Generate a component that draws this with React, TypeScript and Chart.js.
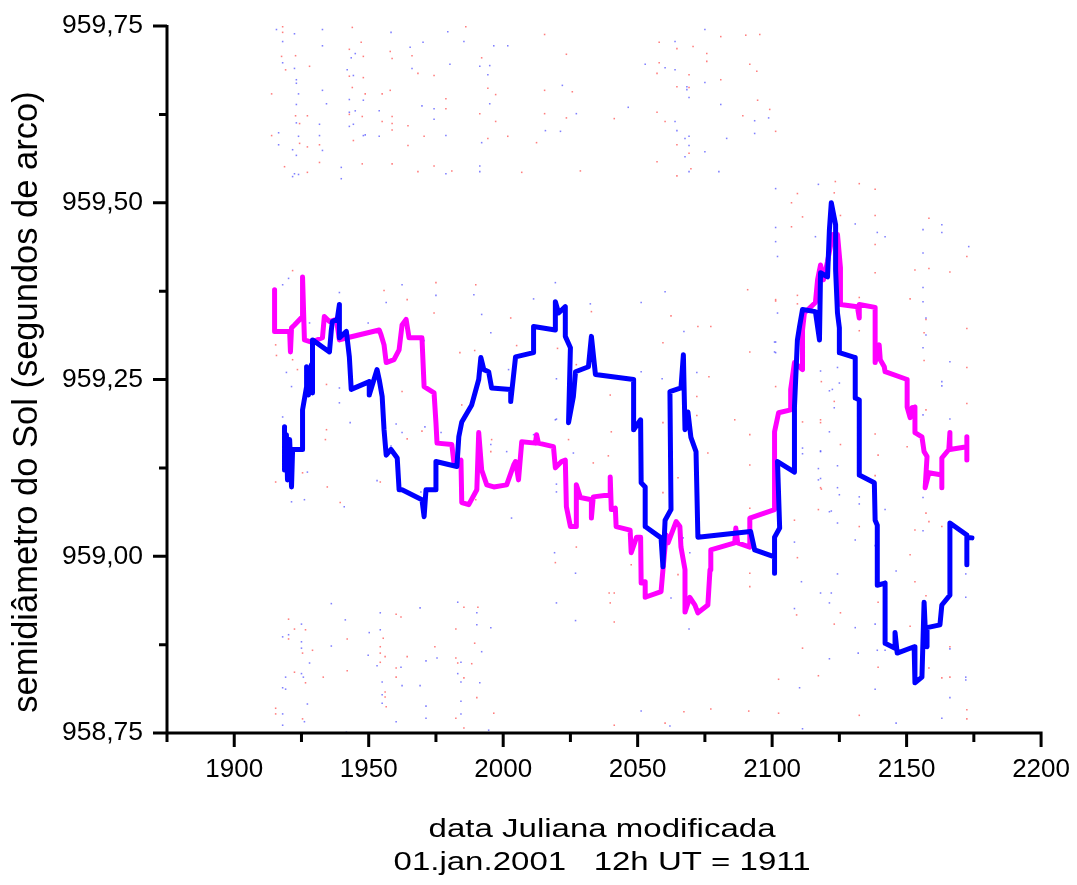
import { useEffect, useRef } from 'react';
import { Chart, registerables } from 'chart.js';

Chart.register(...registerables);

// Tick values
const xTickValues = [1900, 1950, 2000, 2050, 2100, 2150, 2200];
const xMinorTicks = [1875, 1925, 1975, 2025, 2075, 2125, 2175];
const yTickValues = [958.75, 959.0, 959.25, 959.5, 959.75];
const yMinorTicks = [958.875, 959.125, 959.375, 959.625];

const xTitleLines = ['data Juliana modificada', '01.jan.2001   12h UT = 1911'];
const yTitle = 'semidiâmetro do Sol (segundos de arco)';

// Magenta series
const magentaX = [
  1915.0, 1915.0, 1920.6, 1920.9, 1921.3, 1922.4, 1925.4, 1925.4, 1926.1, 1928.7,
  1932.8, 1933.5, 1935.4, 1938.0, 1939.1, 1942.0, 1953.9, 1954.6, 1955.7, 1956.5,
  1959.4, 1961.3, 1962.4, 1963.9, 1965.0, 1969.8, 1970.6, 1974.3, 1975.0, 1975.4,
  1980.9, 1981.7, 1984.3, 1984.6, 1987.2, 1990.2, 1990.9, 1992.0, 1993.9, 1996.5,
  2001.3, 2003.9, 2004.6, 2005.7, 2006.9, 2012.0, 2012.4, 2013.1, 2018.7, 2019.4,
  2021.7, 2023.1, 2023.5, 2025.0, 2027.2, 2027.2, 2028.7, 2032.8, 2032.8, 2033.5,
  2039.8, 2039.8, 2040.2, 2041.7, 2042.0, 2047.2, 2047.6, 2049.6, 2051.1, 2051.3,
  2052.8, 2052.8, 2058.7, 2059.4, 2060.6, 2061.3, 2064.3, 2065.7, 2066.1, 2067.6,
  2067.6, 2069.4, 2071.3, 2072.4, 2076.1, 2076.9, 2077.2, 2086.1, 2086.5, 2087.2,
  2091.7, 2091.7, 2100.9, 2100.9, 2102.4, 2106.9, 2106.9, 2108.3, 2111.3, 2111.3,
  2112.0, 2116.1, 2116.9, 2118.0, 2119.1, 2120.6, 2122.5, 2124.3, 2125.4, 2125.4,
  2131.7, 2132.4, 2132.4, 2138.3, 2138.3, 2139.8, 2140.2, 2141.7, 2142.0, 2150.2,
  2150.2, 2151.3, 2152.0, 2153.1, 2153.1, 2155.7, 2156.5, 2157.6, 2156.9, 2158.3,
  2163.1, 2163.1, 2163.1, 2165.7, 2166.1, 2166.1, 2172.4, 2172.4, 2172.4,
];
const magentaY = [
  959.377, 959.318, 959.318, 959.289, 959.323, 959.327, 959.339, 959.395, 959.306, 959.303,
  959.309, 959.339, 959.332, 959.335, 959.306, 959.309, 959.320, 959.313, 959.299, 959.274,
  959.278, 959.292, 959.327, 959.335, 959.309, 959.309, 959.240, 959.231, 959.189, 959.160,
  959.158, 959.132, 959.136, 959.076, 959.073, 959.094, 959.175, 959.122, 959.101, 959.098,
  959.101, 959.129, 959.134, 959.108, 959.162, 959.160, 959.172, 959.160, 959.155, 959.125,
  959.134, 959.136, 959.070, 959.042, 959.042, 959.101, 959.083, 959.080, 959.054, 959.084,
  959.087, 959.112, 959.066, 959.068, 959.042, 959.037, 959.005, 959.027, 959.027, 958.962,
  958.964, 958.942, 958.950, 958.981, 959.030, 959.019, 959.049, 959.042, 959.013, 958.981,
  958.921, 958.942, 958.931, 958.920, 958.931, 958.981, 959.009, 959.019, 959.040, 959.019,
  959.013, 959.054, 959.066, 959.176, 959.203, 959.207, 959.236, 959.274, 959.264, 959.320,
  959.344, 959.359, 959.391, 959.412, 959.391, 959.417, 959.455, 959.455, 959.408, 959.356,
  959.353, 959.337, 959.356, 959.352, 959.274, 959.299, 959.278, 959.268, 959.261, 959.250,
  959.211, 959.196, 959.210, 959.211, 959.175, 959.169, 959.148, 959.141, 959.097, 959.118,
  959.115, 959.097, 959.139, 959.151, 959.175, 959.151, 959.155, 959.169, 959.136,
];

// Blue series
const blueX = [
  1918.7, 1918.7, 1919.4, 1919.8, 1920.6, 1921.3, 1921.7, 1925.4, 1925.4, 1926.9,
  1926.9, 1927.6, 1928.7, 1929.1, 1929.1, 1935.4, 1936.1, 1936.5, 1938.3, 1939.1,
  1939.1, 1941.7, 1942.8, 1943.5, 1950.2, 1950.2, 1953.1, 1953.9, 1955.0, 1955.7,
  1956.5, 1958.3, 1960.6, 1961.3, 1962.4, 1969.8, 1970.6, 1971.3, 1975.0, 1975.0,
  1982.8, 1983.5, 1984.6, 1988.3, 1990.9, 1991.7, 1992.8, 1994.6, 1995.7, 2002.8,
  2002.8, 2004.6, 2011.3, 2011.3, 2019.4, 2019.4, 2020.6, 2023.1, 2023.1, 2025.0,
  2024.3, 2026.1, 2026.9, 2031.7, 2032.8, 2034.3, 2048.5, 2048.5, 2051.1, 2051.3,
  2052.8, 2052.8, 2058.7, 2059.4, 2060.2, 2062.4, 2062.0, 2066.1, 2067.0, 2067.6,
  2068.7, 2069.8, 2071.7, 2072.4, 2092.0, 2093.5, 2100.9, 2100.9, 2100.9, 2102.8,
  2102.0, 2108.3, 2108.3, 2109.4, 2110.2, 2111.3, 2116.1, 2117.6, 2118.0, 2120.6,
  2121.3, 2122.0, 2123.6, 2123.6, 2124.3, 2125.0, 2125.0, 2130.9, 2130.9, 2132.4,
  2132.4, 2138.0, 2138.3, 2139.1, 2139.1, 2142.0, 2142.0, 2145.7, 2145.7, 2146.5,
  2152.8, 2153.1, 2155.7, 2156.5, 2156.9, 2157.6, 2157.6, 2162.4, 2163.1, 2166.1,
  2166.1, 2172.4, 2172.4, 2172.4, 2174.3,
];
const blueY = [
  959.183, 959.122, 959.172, 959.108, 959.165, 959.098, 959.151, 959.151, 959.207, 959.240,
  959.268, 959.228, 959.271, 959.231, 959.306, 959.289, 959.320, 959.332, 959.335, 959.356,
  959.309, 959.318, 959.282, 959.236, 959.247, 959.228, 959.264, 959.250, 959.226, 959.179,
  959.143, 959.151, 959.139, 959.094, 959.094, 959.080, 959.056, 959.094, 959.094, 959.134,
  959.127, 959.169, 959.190, 959.214, 959.250, 959.281, 959.264, 959.261, 959.238, 959.236,
  959.219, 959.282, 959.288, 959.325, 959.320, 959.360, 959.344, 959.353, 959.311, 959.295,
  959.189, 959.226, 959.261, 959.268, 959.311, 959.257, 959.250, 959.179, 959.193, 959.104,
  959.098, 959.042, 959.026, 958.985, 959.051, 959.066, 959.233, 959.238, 959.285, 959.179,
  959.204, 959.168, 959.148, 959.027, 959.035, 959.009, 958.999, 958.976, 959.027, 959.040,
  959.134, 959.119, 959.211, 959.306, 959.325, 959.349, 959.346, 959.306, 959.401, 959.395,
  959.462, 959.500, 959.469, 959.405, 959.344, 959.323, 959.288, 959.281, 959.224, 959.221,
  959.115, 959.104, 959.051, 959.044, 958.959, 958.962, 958.877, 958.870, 958.892, 958.863,
  958.872, 958.821, 958.829, 958.935, 958.900, 958.872, 958.899, 958.903, 958.931, 958.945,
  959.047, 959.030, 958.988, 959.027, 959.026,
];

// Individual measurements (faint scattered dots), red
const redDotX = [
  1918.0, 1918.0, 1917.6, 1919.1, 1922.8, 1928.0, 1913.9, 1922.8, 1927.2, 1924.3,
  1913.9, 1924.3, 1927.2, 1931.7, 1931.7, 1918.7, 1927.2, 1943.9, 1947.2, 1942.8,
  1948.0, 1948.0, 1942.8, 1943.9, 1948.7, 1958.0, 1958.7, 1958.0, 1955.0, 1958.7,
  1958.7, 1955.0, 1958.7, 1947.6, 1942.8, 1944.3, 1947.6, 1958.7, 1964.6, 1964.6,
  1966.1, 1968.3, 1974.3, 1970.6, 1974.3, 1968.3, 1978.7, 1978.7, 1980.9, 1986.1,
  1992.0, 1994.3, 1997.2, 1997.2, 1991.3, 1994.3, 2001.7, 2012.4, 2006.9, 2015.4,
  2015.4, 2015.4, 2023.5, 2025.7, 2023.5, 2041.3, 2028.7, 2058.0, 2064.6, 2070.6,
  2080.9, 2090.2, 2095.4, 2058.0, 2057.2, 2075.7, 2075.7, 2069.1, 2080.9, 2091.7,
  2094.3, 2064.6, 2069.1, 2057.2, 2060.2, 2089.1, 2094.6, 2099.1, 2101.3, 2064.6,
  2069.1, 2057.2, 2069.8, 2064.6,
  1920.2, 1922.4, 1926.5, 1920.2, 1929.1, 1925.4, 1922.4, 1926.5, 1933.1, 1942.0,
  1942.0, 1915.4, 1915.4, 1925.4, 1955.4, 1954.3, 1954.3, 1956.1, 1954.3, 1962.0,
  1960.2, 1964.3, 1960.2, 1960.2, 1956.1, 1956.1, 1956.5, 1974.6, 1982.4, 1982.4,
  1983.1, 1985.4, 1990.6, 1989.4, 1985.4, 1990.2, 1982.4, 1985.4, 1996.5, 1988.3,
  2041.3, 2067.2, 2060.2, 2077.2, 2091.3, 2102.4, 2132.4, 2172.4, 2172.4,
  2109.4, 2107.2, 2111.3, 2107.2, 2123.5, 2123.1, 2125.4, 2132.4, 2138.3, 2138.3,
  2138.3, 2138.3, 2158.3, 2153.1, 2158.3, 2166.1, 2172.4, 2172.4, 2157.2, 2151.3,
  2156.5, 2156.5, 2172.4, 2172.4, 2157.2, 2150.2, 2157.2, 2153.1, 2158.3, 2163.1,
  2151.3, 2153.1, 2157.2, 2151.3, 2166.1, 2158.3, 2163.1, 2166.1, 2109.1, 2111.3,
  2102.4, 2117.2, 2125.4, 2123.1, 2139.4, 2139.4, 2108.3, 2109.4, 2125.4, 2118.3,
  2117.2, 2132.4, 2139.4, 2138.3, 2138.3, 2118.0, 2111.3, 2123.1, 2118.3, 2101.3,
  2101.3, 2109.4, 2109.4, 2132.4, 2132.4,
  1921.7, 1915.4, 1915.7, 1921.7, 1923.5, 1934.3, 1955.7, 1964.3, 1975.0, 1974.3,
  1989.8, 2002.8, 2005.0, 2020.2, 1983.9, 1989.4, 1962.4, 1984.6, 1969.8, 1964.3,
  1934.3, 1933.9, 1925.4, 1915.4, 1934.6, 1939.4, 1954.3, 1995.7, 1995.4, 1989.8,
  1985.0,
  2090.9, 2091.7, 2091.7, 2091.7, 2091.7, 2091.7, 2091.7, 2086.1, 2076.5, 2076.1,
  2072.0, 2072.0, 2077.2, 2072.4, 2062.4, 2059.4, 2059.4, 2059.4, 2065.0, 2101.3,
  2118.0, 2118.0, 2032.8, 2039.8, 2040.2, 2039.1, 2033.5, 2024.3, 2027.2, 2039.4,
  2041.3, 2039.8, 2041.3, 2027.2, 2019.4, 2047.6, 2065.0,
];
const redDotY = [
  959.749, 959.741, 959.707, 959.688, 959.708, 959.693, 959.654, 959.623, 959.623, 959.612,
  959.595, 959.584, 959.579, 959.582, 959.557, 959.551, 959.543, 959.748, 959.727, 959.717,
  959.707, 959.677, 959.679, 959.663, 959.654, 959.714, 959.704, 959.659, 959.654, 959.622,
  959.612, 959.615, 959.603, 959.622, 959.625, 959.588, 959.555, 959.555, 959.609, 959.581,
  959.708, 959.683, 959.680, 959.594, 959.552, 959.544, 959.647, 959.633, 959.545, 959.749,
  959.705, 959.662, 959.653, 959.615, 959.626, 959.591, 959.594, 959.585, 959.543, 959.738,
  959.659, 959.626, 959.710, 959.657, 959.620, 959.619, 959.545, 959.727, 959.718, 959.721,
  959.735, 959.737, 959.738, 959.698, 959.683, 959.711, 959.700, 959.681, 959.674, 959.696,
  959.686, 959.664, 959.663, 959.628, 959.615, 959.623, 959.645, 959.632, 959.601, 959.582,
  959.570, 959.558, 959.548, 959.538,
  958.911, 958.897, 958.896, 958.883, 958.867, 958.863, 958.836, 958.821, 958.829, 958.883,
  958.838, 958.785, 958.777, 958.770, 958.884, 958.872, 958.863, 958.858, 958.850, 958.914,
  958.918, 958.858, 958.842, 958.829, 958.808, 958.801, 958.787, 958.872, 958.897, 958.856,
  958.849, 958.928, 958.928, 958.877, 958.828, 958.800, 958.771, 958.757, 958.778, 958.848,
  958.761, 958.780, 958.764, 958.784, 958.781, 958.778, 958.775, 958.783, 958.770,
  959.513, 959.500, 959.480, 959.466, 959.530, 959.514, 959.482, 959.527, 959.519, 959.482,
  959.441, 959.401, 959.478, 959.405, 959.407, 959.402, 959.424, 959.322, 959.335, 959.364,
  959.316, 959.277, 959.267, 959.216, 959.207, 959.155, 959.061, 959.037, 959.049, 959.042,
  959.002, 958.964, 958.944, 958.901, 958.872, 958.842, 958.828, 958.829, 958.917, 958.870,
  958.826, 958.831, 958.920, 958.904, 958.935, 958.843, 959.051, 958.998, 959.158, 959.095,
  959.066, 959.042, 959.143, 959.114, 959.173, 959.189, 959.190, 959.219, 959.247, 959.240,
  959.361, 959.369, 959.357, 959.366, 959.319,
  959.404, 959.299, 959.284, 959.278, 959.264, 959.243, 959.376, 959.363, 959.387, 959.344,
  959.384, 959.337, 959.298, 959.294, 959.288, 959.291, 959.233, 959.214, 959.177, 959.166,
  959.179, 959.165, 959.118, 959.105, 959.098, 959.076, 959.105, 959.165, 959.148, 959.080,
  959.090,
  959.377, 959.289, 959.172, 959.129, 959.068, 958.976, 958.957, 959.193, 959.254, 959.146,
  959.226, 959.199, 959.325, 959.325, 959.340, 959.302, 959.189, 959.090, 959.111, 959.363,
  959.097, 959.193, 959.346, 959.228, 959.176, 959.142, 959.132, 959.165, 959.271, 958.948,
  958.948, 958.934, 958.907, 959.013, 958.991, 958.988, 958.974,
];

// Individual measurements (faint scattered dots), blue
const blueDotX = [
  1915.7, 1922.4, 1932.8, 1918.0, 1932.8, 1918.0, 1922.4, 1923.1, 1923.1, 1923.9,
  1932.8, 1923.1, 1934.3, 1923.1, 1931.7, 1916.5, 1923.9, 1931.7, 1916.5, 1921.7,
  1932.8, 1923.1, 1922.4, 1923.9, 1921.7, 1939.8, 1939.8, 1942.0, 1943.5, 1945.0,
  1944.3, 1942.8, 1948.0, 1945.0, 1942.8, 1944.3, 1942.8, 1948.7, 1948.0, 1953.9,
  1953.9, 1958.3, 1965.4, 1966.1, 1970.2, 1979.4, 1985.4, 1980.2, 1969.8, 1974.3,
  1974.3, 1978.7, 1978.7, 1991.3, 1995.0, 1994.3, 1996.5, 2001.7, 1995.0, 1992.0,
  1991.3, 1991.3, 2022.0, 2027.2, 2015.7, 2021.3, 2046.5, 2052.8, 2060.2, 2063.9,
  2063.9, 2075.0, 2075.0, 2068.3, 2068.3, 2069.1, 2063.9, 2080.9, 2093.5, 2098.7,
  2064.6, 2067.6, 2069.1, 2069.1, 2075.0, 2067.6, 2083.1, 2093.5, 2069.1, 2080.2,
  1918.0, 1920.2, 1925.0, 1919.1, 1918.0, 1919.1, 1925.0, 1925.0, 1928.0, 1925.0,
  1925.7, 1927.2, 1918.0, 1918.0, 1926.1, 1936.1, 1941.3, 1936.1, 1950.2, 1949.8,
  1954.3, 1954.3, 1953.1, 1955.0, 1955.0, 1955.0, 1960.2, 1962.0, 1962.4, 1969.1,
  1969.1, 1971.3, 1971.3, 1971.3, 1975.4, 1983.1, 1990.2, 1990.2, 1984.3, 1983.1,
  1984.3, 1984.3, 1984.3, 1992.0, 1991.3, 1994.6, 1995.4, 1941.7,
  2051.3, 2062.0, 2111.3, 2146.1, 2163.1,
  2101.3, 2101.3, 2101.3, 2102.0, 2117.2, 2130.9, 2139.1, 2142.0, 2156.1, 2163.1,
  2163.1, 2173.1, 2156.1, 2156.1, 2156.1, 2157.2, 2157.2, 2156.1, 2166.1, 2163.1,
  2163.1, 2166.1, 2156.1, 2101.3, 2101.3, 2102.0, 2116.1, 2118.0, 2124.3, 2125.0,
  2121.3, 2123.1, 2121.3, 2111.3, 2111.3, 2118.0, 2117.2, 2117.2, 2124.3, 2124.3,
  2125.0, 2132.4, 2132.4, 2122.0, 2124.3, 2130.9, 2138.3, 2142.0, 2146.1, 2156.1,
  2156.1, 2172.0, 2172.0, 2108.3, 2108.3, 2118.0, 2122.0, 2121.3, 2110.9, 2124.3,
  2130.9, 2138.3, 2139.1, 2132.0, 2121.3, 2110.2, 2138.3, 2142.0, 2166.1, 2172.0,
  2172.0, 2166.1,
  1918.0, 1920.2, 1928.0, 1939.1, 1949.8, 1956.5, 1962.4, 1975.0, 1970.6, 1989.1,
  1992.0, 1995.4, 2002.0, 2011.3, 2019.4, 1918.0, 1921.3, 1919.4, 1939.1, 1939.1,
  1943.1, 1960.2, 1962.4, 1958.3, 1970.9, 1976.9, 1980.9, 2001.3, 2011.3, 2019.4,
  1921.3, 1926.1, 1927.2, 1940.9, 1953.1, 1969.4, 1990.9, 1992.0, 1995.4, 2003.1,
  2032.4, 2051.3, 2060.2, 2067.2, 2072.0, 2051.3, 2059.1, 2100.9, 2100.9, 2118.0,
  2118.0, 2121.3, 2122.4, 2019.8, 2019.8, 2026.1, 2019.8, 2019.8, 2019.1, 2026.9,
  2019.8, 2026.9, 2069.4, 2066.9, 2062.4, 2069.1,
];
const blueDotY = [
  959.745, 959.739, 959.745, 959.728, 959.722, 959.698, 959.690, 959.674, 959.669, 959.654,
  959.659, 959.639, 959.640, 959.613, 959.611, 959.599, 959.594, 959.595, 959.582, 959.575,
  959.574, 959.567, 959.541, 959.540, 959.537, 959.550, 959.534, 959.688, 959.705, 959.711,
  959.680, 959.646, 959.645, 959.630, 959.628, 959.611, 959.608, 959.596, 959.595, 959.630,
  959.594, 959.741, 959.720, 959.690, 959.727, 959.742, 959.728, 959.696, 959.637, 959.633,
  959.618, 959.595, 959.541, 959.693, 959.694, 959.681, 959.722, 959.722, 959.640, 959.585,
  959.552, 959.544, 959.666, 959.626, 959.602, 959.601, 959.635, 959.696, 959.691, 959.728,
  959.688, 959.745, 959.670, 959.664, 959.660, 959.649, 959.615, 959.639, 959.616, 959.620,
  959.602, 959.591, 959.594, 959.581, 959.572, 959.565, 959.591, 959.598, 959.544, 959.544,
  958.886, 958.889, 958.904, 958.829, 958.814, 958.812, 958.879, 958.870, 958.849, 958.834,
  958.829, 958.791, 958.777, 958.761, 958.766, 958.933, 958.910, 958.873, 958.892, 958.860,
  958.920, 958.896, 958.845, 958.822, 958.804, 958.792, 958.766, 958.843, 958.817, 958.927,
  958.817, 958.852, 958.788, 958.771, 958.856, 958.935, 958.920, 958.903, 958.850, 958.834,
  958.822, 958.795, 958.777, 958.865, 958.821, 958.754, 958.899, 958.751,
  958.781, 958.760, 958.756, 958.764, 958.771,
  959.520, 959.465, 959.445, 959.424, 959.526, 959.470, 959.458, 959.452, 959.462, 959.469,
  959.458, 959.438, 959.429, 959.380, 959.360, 959.337, 959.313, 959.295, 959.275, 959.247,
  959.241, 959.194, 959.200, 959.303, 959.288, 959.344, 959.452, 959.262, 959.267, 959.245,
  959.234, 959.210, 959.176, 959.153, 959.145, 959.149, 959.124, 959.108, 959.128, 959.097,
  959.087, 959.084, 959.074, 959.064, 959.047, 959.023, 959.015, 959.066, 958.979, 959.083,
  959.036, 958.975, 958.942, 959.020, 958.926, 958.948, 958.948, 958.934, 958.964, 958.975,
  958.899, 958.904, 958.867, 958.863, 958.855, 958.814, 958.812, 958.867, 958.869, 958.829,
  958.825, 958.800,
  959.384, 959.393, 959.330, 959.373, 959.330, 959.359, 959.384, 959.369, 959.305, 959.370,
  959.342, 959.316, 959.264, 959.364, 959.387, 959.197, 959.240, 959.260, 959.238, 959.217,
  959.189, 959.187, 959.175, 959.156, 959.183, 959.175, 959.153, 959.148, 959.172, 959.193,
  959.077, 959.080, 959.119, 959.070, 959.107, 959.091, 959.143, 959.132, 959.158, 959.054,
  959.357, 959.359, 959.374, 959.318, 959.260, 959.261, 959.251, 959.303, 959.289, 959.148,
  959.110, 959.063, 959.236, 959.251, 959.194, 959.146, 959.102, 959.091, 959.005, 958.976,
  958.934, 958.909, 959.005, 959.026, 958.941, 958.897,
];

const toPoints = (xs: number[], ys: number[]) => xs.map((x, i) => ({ x, y: ys[i] }));

const FONT = '"Liberation Sans", Arial, Helvetica, sans-serif';

const axesPlugin = {
  id: 'originAxes',
  afterDraw(chart: any) {
    const { ctx, chartArea, scales } = chart;
    const xs = scales.x;
    const ys = scales.y;
    const left = chartArea.left;
    const bottom = chartArea.bottom;
    ctx.save();
    ctx.strokeStyle = '#000';
    ctx.lineWidth = 3;
    ctx.lineCap = 'butt';
    ctx.beginPath();
    ctx.moveTo(left, chartArea.top - 1);
    ctx.lineTo(left, bottom + 1.5);
    ctx.moveTo(left - 1.5, bottom);
    ctx.lineTo(chartArea.right + 1.5, bottom);
    xTickValues.forEach((v) => {
      const p = xs.getPixelForValue(v);
      ctx.moveTo(p, bottom);
      ctx.lineTo(p, bottom + 14);
    });
    xMinorTicks.forEach((v) => {
      const p = xs.getPixelForValue(v);
      ctx.moveTo(p, bottom);
      ctx.lineTo(p, bottom + 9);
    });
    yTickValues.forEach((v) => {
      const p = ys.getPixelForValue(v);
      ctx.moveTo(left, p);
      ctx.lineTo(left - 14, p);
    });
    yMinorTicks.forEach((v) => {
      const p = ys.getPixelForValue(v);
      ctx.moveTo(left, p);
      ctx.lineTo(left - 8, p);
    });
    ctx.stroke();

    // axis titles
    ctx.fillStyle = '#000';
    // y title (rotated)
    ctx.save();
    ctx.font = `34.5px ${FONT}`;
    ctx.textAlign = 'center';
    ctx.textBaseline = 'alphabetic';
    ctx.translate(37, 402);
    ctx.rotate(-Math.PI / 2);
    ctx.fillText(yTitle, 0, 0);
    ctx.restore();
    // x title (two lines, wide lettering)
    const cx = (chartArea.left + chartArea.right) / 2;
    ctx.save();
    ctx.font = `26px ${FONT}`;
    ctx.textAlign = 'center';
    ctx.textBaseline = 'alphabetic';
    ctx.translate(cx - 2, 0);
    ctx.scale(1.27, 1);
    ctx.fillText(xTitleLines[0], 0, 837);
    ctx.fillText(xTitleLines[1], 0, 870);
    ctx.restore();

    ctx.restore();
  },
};

export default function App() {
  const canvasRef = useRef<HTMLCanvasElement | null>(null);

  useEffect(() => {
    if (!canvasRef.current) return;
    const lineBase = {
      borderWidth: 5,
      pointRadius: 0,
      tension: 0,
      fill: false,
      borderJoinStyle: 'round' as const,
      borderCapStyle: 'round' as const,
    };
    const dotBase = {
      showLine: false,
      pointStyle: 'rect' as const,
      pointRadius: 1.1,
      borderWidth: 0,
    };
    const chart = new Chart(canvasRef.current, {
      type: 'line',
      data: {
        datasets: [
          {
            label: 'azul',
            data: toPoints(blueX, blueY),
            borderColor: '#0000ff',
            order: 0,
            ...lineBase,
          },
          {
            label: 'magenta',
            data: toPoints(magentaX, magentaY),
            borderColor: '#ff00ff',
            order: 1,
            ...lineBase,
          },
          {
            label: 'medidas azul',
            data: toPoints(blueDotX, blueDotY),
            backgroundColor: 'rgba(60,60,255,0.65)',
            borderColor: 'rgba(60,60,255,0.65)',
            order: 2,
            ...dotBase,
          },
          {
            label: 'medidas vermelho',
            data: toPoints(redDotX, redDotY),
            backgroundColor: 'rgba(255,40,40,0.6)',
            borderColor: 'rgba(255,40,40,0.6)',
            order: 3,
            ...dotBase,
          },
        ],
      },
      options: {
        animation: false,
        responsive: false,
        devicePixelRatio: 1,
        layout: { padding: { top: 26, right: 32, left: 0, bottom: 0 } },
        plugins: {
          legend: { display: false },
          tooltip: { enabled: false },
        },
        scales: {
          x: {
            type: 'linear',
            min: 1875,
            max: 2200,
            afterBuildTicks: (scale: any) => {
              scale.ticks = xTickValues.map((v) => ({ value: v }));
            },
            afterFit: (scale: any) => {
              scale.height = 152;
            },
            grid: {
              display: true,
              drawOnChartArea: false,
              drawTicks: true,
              tickLength: 14,
              color: 'rgba(0,0,0,0)',
            },
            border: { display: false },
            ticks: {
              padding: 7,
              color: '#000',
              maxRotation: 0,
              autoSkip: false,
              font: { family: FONT, size: 26 },
              callback: (v: any) => String(v),
            },
            title: { display: false },
          },
          y: {
            type: 'linear',
            min: 958.75,
            max: 959.75,
            afterBuildTicks: (scale: any) => {
              scale.ticks = yTickValues.map((v) => ({ value: v }));
            },
            afterFit: (scale: any) => {
              scale.width = 167;
            },
            grid: {
              display: true,
              drawOnChartArea: false,
              drawTicks: true,
              tickLength: 14,
              color: 'rgba(0,0,0,0)',
            },
            border: { display: false },
            ticks: {
              padding: 10,
              color: '#000',
              autoSkip: false,
              font: { family: FONT, size: 26.5 },
              callback: (v: any) => Number(v).toFixed(2).replace('.', ','),
            },
            title: { display: false },
          },
        },
      },
      plugins: [axesPlugin],
    });
    return () => chart.destroy();
  }, []);

  return (
    <div style={{ position: 'absolute', left: 0, top: 0, width: 1077, height: 885, background: '#fff' }}>
      <canvas ref={canvasRef} width={1077} height={885} style={{ display: 'block' }} />
    </div>
  );
}
